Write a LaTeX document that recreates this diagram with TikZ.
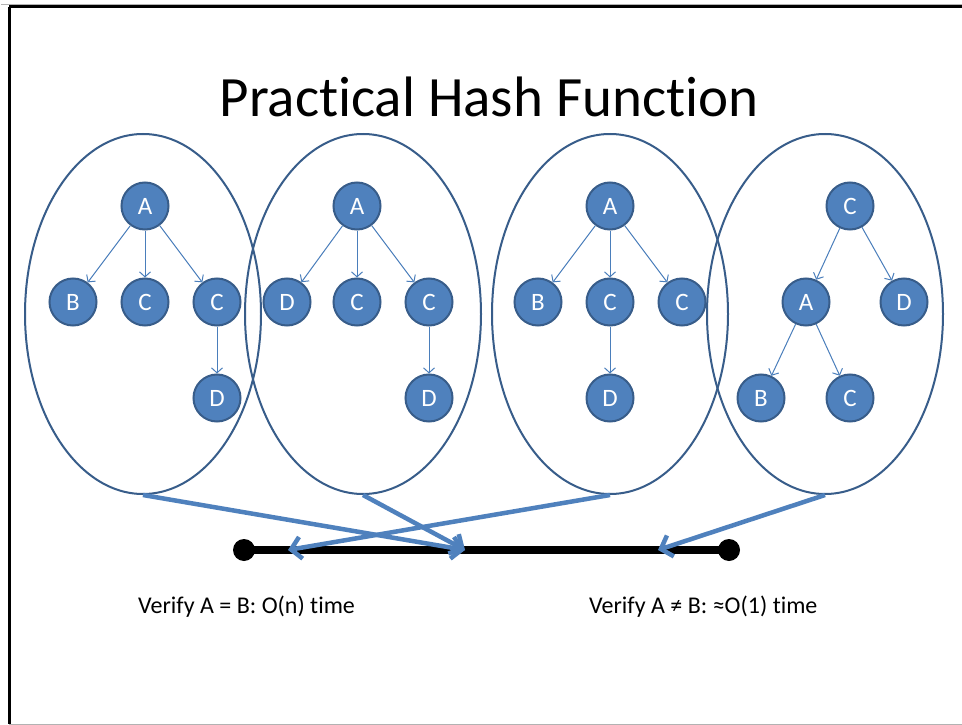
\documentclass[tikz,border=0pt]{standalone}
\usepackage{fontspec}
\setmainfont{Carlito}[Ligatures=NoCommon]
\usetikzlibrary{shapes.geometric,arrows.meta}

\definecolor{nodefill}{HTML}{4F81BD}
\definecolor{nodeline}{HTML}{385D8A}
\definecolor{edgeblue}{HTML}{4A7EBB}

\tikzset{
  treenode/.style={circle, fill=nodefill, draw=nodeline, line width=2pt,
    minimum size=47pt, inner sep=0pt, text=white,
    font=\fontsize{25}{25}\selectfont},
  treeedge/.style={draw=edgeblue, line width=1pt,
    -{Straight Barb[length=5pt,width=11pt]}},
  group/.style={ellipse, draw=nodeline, line width=2pt,
    minimum width=236pt, minimum height=360pt, inner sep=0pt},
  hashedge/.style={draw=nodefill, line width=4.5pt,
    -{Straight Barb[length=10pt,width=22pt]}},
  endpoint/.style={circle, fill=black, minimum size=22pt, inner sep=0pt},
  caption/.style={font=\fontsize{24}{28}\selectfont, anchor=base west, inner sep=0pt},
}

\begin{document}
\begin{tikzpicture}[x=1pt, y=-1pt]
  \useasboundingbox (0,0) rectangle (962,725);
  \fill[white] (0,0) rectangle (962,725);

  % slide frame
  \draw[gray!60, line width=1pt] (1,4.5) -- (962,4.5);
  \draw[black, line width=3pt] (9,7) -- (962,7);
  \draw[black, line width=3pt] (9,7) -- (9,724);
  \draw[gray!60, line width=1pt] (9,724) -- (962,724);

  % title
  \node[font=\fontsize{57}{60}\selectfont, anchor=base, inner sep=0pt] (title) at (489,117) {Practical Hash Function};

  % groups of trees
  \node[group] (e1) at (143,314) {};
  \node[group] (e2) at (363,314) {};
  \node[group] (e3) at (610,314) {};
  \node[group] (e4) at (825,314) {};

  % tree 1
  \node[treenode] (a1)  at (145,206) {A};
  \node[treenode] (b1)  at (73,302)  {B};
  \node[treenode] (c1)  at (145,302) {C};
  \node[treenode] (c1x) at (217,302) {C};
  \node[treenode] (d1)  at (217,398) {D};
  \draw[treeedge] (a1) -- (b1);
  \draw[treeedge] (a1) -- (c1);
  \draw[treeedge] (a1) -- (c1x);
  \draw[treeedge] (c1x) -- (d1);

  % tree 2
  \node[treenode] (a2)  at (357,206) {A};
  \node[treenode] (d2)  at (287,302) {D};
  \node[treenode] (c2)  at (357,302) {C};
  \node[treenode] (c2x) at (429,302) {C};
  \node[treenode] (d2x) at (429,398) {D};
  \draw[treeedge] (a2) -- (d2);
  \draw[treeedge] (a2) -- (c2);
  \draw[treeedge] (a2) -- (c2x);
  \draw[treeedge] (c2x) -- (d2x);

  % tree 3
  \node[treenode] (a3)  at (610,206) {A};
  \node[treenode] (b3)  at (538,302) {B};
  \node[treenode] (c3)  at (610,302) {C};
  \node[treenode] (c3x) at (682,302) {C};
  \node[treenode] (d3)  at (610,398) {D};
  \draw[treeedge] (a3) -- (b3);
  \draw[treeedge] (a3) -- (c3);
  \draw[treeedge] (a3) -- (c3x);
  \draw[treeedge] (c3) -- (d3);

  % tree 4
  \node[treenode] (r4) at (850,206) {C};
  \node[treenode] (a4) at (806,302) {A};
  \node[treenode] (d4) at (904,302) {D};
  \node[treenode] (b4) at (761,398) {B};
  \node[treenode] (c4) at (850,398) {C};
  \draw[treeedge] (r4) -- (a4);
  \draw[treeedge] (r4) -- (d4);
  \draw[treeedge] (a4) -- (b4);
  \draw[treeedge] (a4) -- (c4);

  % hash value line
  \node[endpoint] (lo) at (244,550) {};
  \node[endpoint] (hi) at (729,550) {};
  \draw[line width=8pt] (lo.center) -- (hi.center);
  \coordinate (h1) at (465,550);
  \coordinate (h3) at (288,550);
  \coordinate (h4) at (658,550);

  % hashes
  \draw[hashedge] (e1.south) -- (h1);
  \draw[hashedge] (e2.south) -- (h1);
  \draw[hashedge] (e3.south) -- (h3);
  \draw[hashedge] (e4.south) -- (h4);

  % captions
  \node[caption] (eq)  at (138,613) {Verify A = B: O(n) time};
  \node[caption] (neq) at (589,613) {Verify A ≠ B: ≈O(1) time};
\end{tikzpicture}
\end{document}
